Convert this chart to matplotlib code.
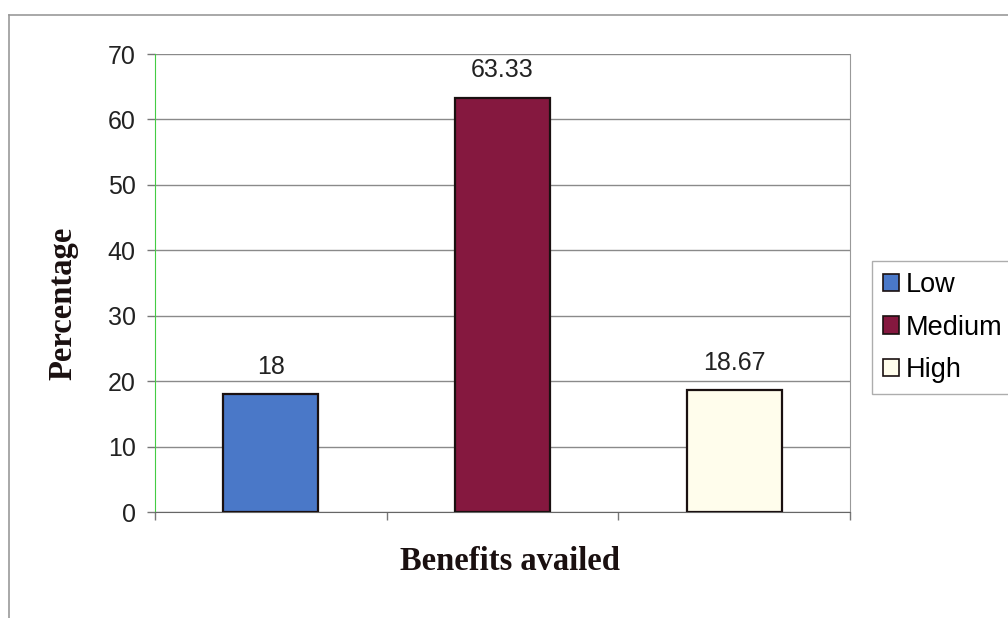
import matplotlib.pyplot as plt
from matplotlib.lines import Line2D

# --- Dane ---
categories = ["Low", "Medium", "High"]
values = [18, 63.33, 18.67]
value_labels = ["18", "63.33", "18.67"]
colors = ["#4a78c8", "#85183f", "#fffdec"]
y_ticks = [0, 10, 20, 30, 40, 50, 60, 70]

plt.rcParams["font.family"] = ["Liberation Sans", "DejaVu Sans"]

fig = plt.figure(figsize=(10.08, 6.18), dpi=100)
ax = fig.add_axes([0.1538, 0.1715, 0.6895, 0.7411])

# --- Słupki ---
x = list(range(len(categories)))
bars = ax.bar(x, values, width=0.41, color=colors, edgecolor="#1a1010",
              linewidth=1.6, zorder=3, label=None)

for b, lab in zip(bars, value_labels):
    ax.annotate(lab, (b.get_x() + b.get_width() / 2, b.get_height()),
                xytext=(0, 11), textcoords="offset points",
                ha="center", va="bottom", fontsize=18, color="#222222")

# --- Osie ---
ax.set_xlim(-0.5, 2.5)
ax.set_ylim(0, 70)
ax.set_yticks(y_ticks)
ax.tick_params(axis="y", labelsize=18, length=6, width=1, color="#777777",
               pad=8, labelcolor="#222222")
ax.set_xticks([-0.5, 0.5, 1.5, 2.5])
ax.set_xticklabels([])
ax.tick_params(axis="x", length=6, width=1, color="#777777")
ax.grid(axis="y", color="#8a8a8a", linewidth=1, zorder=0)

ax.spines["left"].set_color("#44cc44")
ax.spines["bottom"].set_color("#666666")
ax.spines["right"].set_color("#999999")
ax.spines["top"].set_visible(False)

fig.text(0.062, 1 - 303 / 618, "Percentage", rotation=90, ha="center",
         va="center", fontsize=23.5, fontweight="bold",
         family="Liberation Serif", color="#1a1010")
fig.text(510 / 1008, 1 - 562 / 618, "Benefits availed", ha="center",
         va="center", fontsize=23.5, fontweight="bold",
         family="Liberation Serif", color="#1a1010")

# --- Legenda ---
handles = [plt.Rectangle((0, 0), 1, 1, facecolor=c, edgecolor="#1a1010",
                         linewidth=1.2) for c in colors]
leg = fig.legend(handles, categories, loc="upper left",
                 bbox_to_anchor=(872 / 1008, 1 - 261 / 618), fontsize=19.5,
                 frameon=True, fancybox=False, edgecolor="#999999",
                 handlelength=0.6, handleheight=0.6, handletextpad=0.25,
                 labelspacing=0.62, borderpad=0.4, borderaxespad=0)
leg.get_frame().set_linewidth(1)

# --- Ramka wykresu ---
fig.add_artist(Line2D([9 / 1008, 9 / 1008], [0, 1 - 15 / 618],
                      color="#999999", linewidth=1.2))
fig.add_artist(Line2D([9 / 1008, 1], [1 - 15 / 618, 1 - 15 / 618],
                      color="#999999", linewidth=1.2))

fig.savefig("out.png", dpi=100)
